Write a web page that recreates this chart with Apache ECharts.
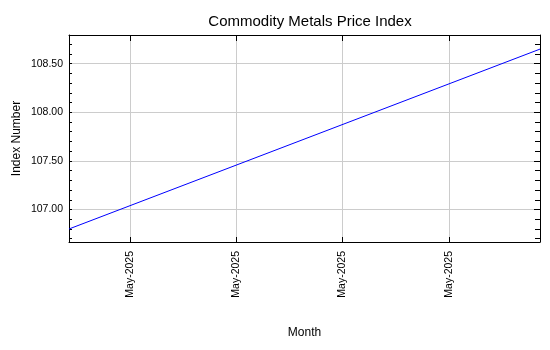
<!DOCTYPE html>
<html>
<head>
<meta charset="utf-8">
<script src="https://cdn.jsdelivr.net/npm/echarts@6/dist/echarts.min.js"></script>
<style>
html,body{margin:0;padding:0;background:#fff;}
#chart{width:550px;height:350px;}
</style>
</head>
<body>
<div id="chart"></div>
<script>
// Data
const dates = ['2025-05-01', '2025-06-01'];
const values = [106.80, 108.65];
const xTickDates = ['2025-05-05', '2025-05-12', '2025-05-19', '2025-05-26'];
const xTickLabel = 'May-2025';
const yMajorTicks = [107.00, 107.50, 108.00, 108.50];
const yMinorTicks = [106.7, 106.8, 106.9, 107.0, 107.1, 107.2, 107.3, 107.4, 107.5, 107.6, 107.7, 107.8, 107.9, 108.0, 108.1, 108.2, 108.3, 108.4, 108.5, 108.6, 108.7];
const yMin = 106.666, yMax = 108.795;
const titleText = 'Commodity Metals Price Index';
const xName = 'Month';
const yName = 'Index Number';

const FONT = 'Liberation Sans, Arial, sans-serif';
const toTs = d => Date.UTC(+d.slice(0, 4), +d.slice(5, 7) - 1, +d.slice(8, 10));
const xMin = toTs(dates[0]);
const xMax = toTs(dates[dates.length - 1]);
const xTicks = xTickDates.map(toTs);
const seriesData = dates.map((d, i) => [toTs(d), values[i]]);

const chart = echarts.init(document.getElementById('chart'), null, {renderer: 'canvas'});
const lineStyleBlack = {color: '#000', width: 1};
const gridLine = {show: true, lineStyle: {color: '#cccccc', width: 1, type: 'solid'}};

chart.setOption({
  animation: false,
  backgroundColor: '#fff',
  title: {
    text: titleText, left: 305, top: 9, textAlign: 'center',
    textStyle: {fontFamily: FONT, fontSize: 15, fontWeight: 'normal', color: '#000'}
  },
  grid: {left: 69, right: 10, top: 35, bottom: 108, containLabel: false},
  xAxis: [
    {
      type: 'value', min: xMin, max: xMax, position: 'bottom',
      axisLine: {show: true, lineStyle: lineStyleBlack},
      axisTick: {show: true, inside: true, length: 5, customValues: xTicks, lineStyle: lineStyleBlack},
      axisLabel: {show: true, customValues: xTicks, rotate: 90, margin: 9, formatter: () => xTickLabel,
        fontFamily: FONT, fontSize: 10.5, color: '#000'},
      splitLine: gridLine,
      name: xName, nameLocation: 'middle', nameGap: 85,
      nameTextStyle: {fontFamily: FONT, fontSize: 12, color: '#000'}
    },
    {
      type: 'value', min: xMin, max: xMax, position: 'top',
      axisLine: {show: true, lineStyle: lineStyleBlack},
      axisTick: {show: true, inside: true, length: 6, customValues: xTicks, lineStyle: lineStyleBlack},
      axisLabel: {show: false}, splitLine: {show: false}
    }
  ],
  yAxis: [
    {
      type: 'value', min: yMin, max: yMax, position: 'left',
      axisLine: {show: true, lineStyle: lineStyleBlack},
      axisTick: {show: true, inside: true, length: 3, customValues: yMinorTicks, lineStyle: lineStyleBlack},
      axisLabel: {show: true, customValues: yMajorTicks, margin: 6, formatter: v => v.toFixed(2),
        fontFamily: FONT, fontSize: 10.5, color: '#000'},
      splitLine: {show: false},
      name: yName, nameLocation: 'middle', nameGap: 46, nameRotate: 90, nameMoveOverlap: false,
      nameTextStyle: {fontFamily: FONT, fontSize: 12, color: '#000'}
    },
    {
      type: 'value', min: yMin, max: yMax, position: 'left',
      axisLine: {show: false},
      axisTick: {show: false, customValues: yMajorTicks},
      axisLabel: {show: false},
      splitLine: gridLine
    },
    {
      type: 'value', min: yMin, max: yMax, position: 'right',
      axisLine: {show: true, lineStyle: lineStyleBlack},
      axisTick: {show: true, inside: true, length: 5, customValues: yMinorTicks, lineStyle: lineStyleBlack},
      axisLabel: {show: false}, splitLine: {show: false}
    },
    {
      type: 'value', min: yMin, max: yMax, position: 'right',
      axisLine: {show: false},
      axisTick: {show: true, inside: true, length: 6, customValues: yMajorTicks, lineStyle: lineStyleBlack},
      axisLabel: {show: false}, splitLine: {show: false}
    }
  ],
  series: [{
    type: 'line', xAxisIndex: 0, yAxisIndex: 0, data: seriesData,
    showSymbol: false, symbol: 'none',
    lineStyle: {color: '#0000ff', width: 1}
  }]
});
</script>
</body>
</html>
